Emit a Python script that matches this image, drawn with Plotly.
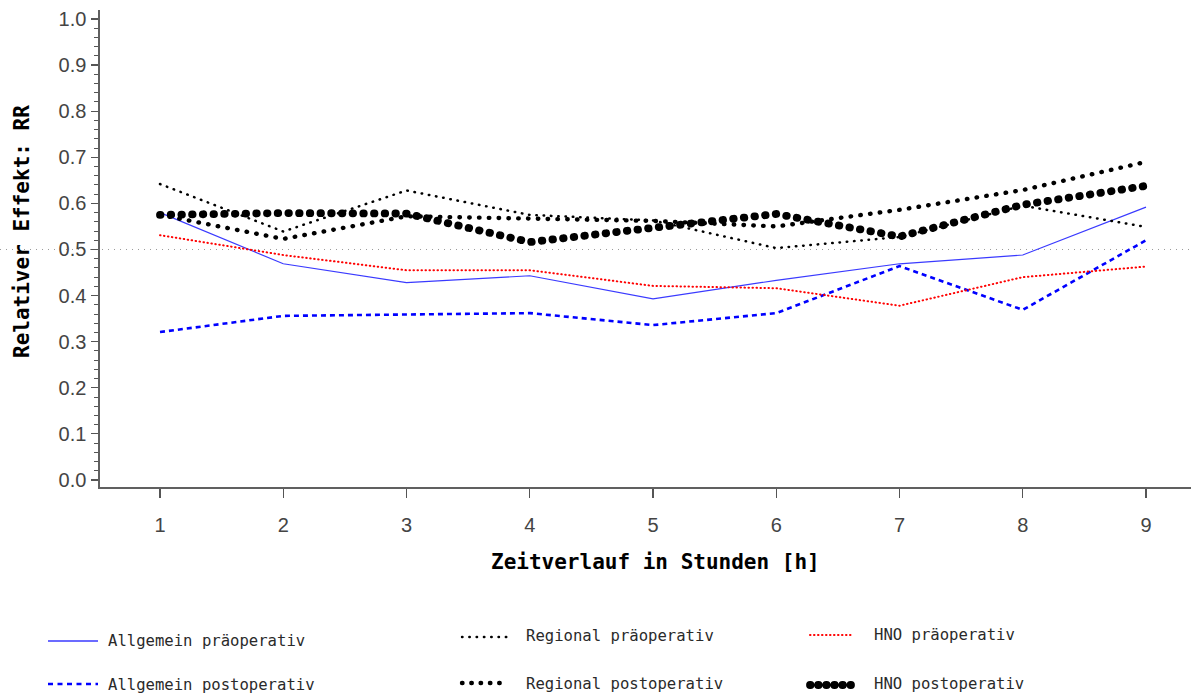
import plotly.graph_objects as go

# Relative effect (RR) per hour, six groups
hours = [1, 2, 3, 4, 5, 6, 7, 8, 9]
allgemein_prae = [0.580, 0.469, 0.428, 0.443, 0.393, 0.433, 0.469, 0.488, 0.592]
allgemein_post = [0.321, 0.356, 0.359, 0.362, 0.336, 0.362, 0.464, 0.369, 0.520]
regional_prae = [0.642, 0.539, 0.628, 0.575, 0.563, 0.503, 0.527, 0.595, 0.549]
regional_post = [0.575, 0.523, 0.572, 0.568, 0.562, 0.550, 0.586, 0.629, 0.690]
hno_prae = [0.531, 0.488, 0.455, 0.455, 0.421, 0.416, 0.378, 0.440, 0.463]
hno_post = [0.575, 0.579, 0.578, 0.516, 0.547, 0.577, 0.528, 0.597, 0.638]

y_ticks = [0.0, 0.1, 0.2, 0.3, 0.4, 0.5, 0.6, 0.7, 0.8, 0.9, 1.0]
reference_rr = 0.5

names = ["Allgemein präoperativ", "Allgemein postoperativ",
         "Regional präoperativ", "Regional postoperativ",
         "HNO präoperativ", "HNO postoperativ"]
series = [allgemein_prae, allgemein_post, regional_prae,
          regional_post, hno_prae, hno_post]

# line styles (color, width, dash pattern); "0.5px" dashes get round caps -> dots
styles = [
    dict(color="#3a3aff", width=1.2, dash="solid"),
    dict(color="#0000ff", width=2.6, dash="5px,4px"),
    dict(color="#000000", width=2.5, dash="0.5px,6.8px"),
    dict(color="#000000", width=4.4, dash="0.5px,9.3px"),
    dict(color="#ff0000", width=2.0, dash="0.5px,3.5px"),
    dict(color="#000000", width=7.8, dash="0.5px,10.2px"),
]
legend_styles = [
    dict(color="#3a3aff", width=1.6, dash="solid"),
    dict(color="#0000ff", width=2.4, dash="5px,4.5px"),
    dict(color="#000000", width=2.4, dash="0.5px,6.8px"),
    dict(color="#000000", width=4.4, dash="0.5px,8.8px"),
    dict(color="#ff0000", width=2.0, dash="0.5px,3.5px"),
    dict(color="#000000", width=7.8, dash="0.5px,7.6px"),
]

W, H = 1191, 694
ML, MR, MT, MB = 100, 0, 10, 207
PW, PH = W - ML - MR, H - MT - MB


def px_x(px):
    return (px - ML) / PW


def px_y(py):
    return (H - MB - py) / PH


fig = go.Figure()
for name, vals, st in zip(names, series, styles):
    fig.add_trace(go.Scatter(x=hours, y=vals, mode="lines", name=name,
                             line=st, showlegend=False, hoverinfo="skip"))

shapes = [
    # dotted reference line at RR = 0.5 across the full width
    dict(type="line", xref="paper", yref="y", x0=px_x(0), x1=px_x(W),
         y0=reference_rr, y1=reference_rr, layer="below",
         line=dict(color="#9a9a9a", width=1, dash="1px,5px")),
]

# legend: three columns, two rows
col_sample = [(48, 98), (462, 508), (810, 853)]
col_text = [106, 524, 872]
row_sample_y = [[641, 684], [637, 683], [635, 685]]
row_text_y = [[641, 685], [636, 684], [635, 684]]
annotations = []
for i, (name, st) in enumerate(zip(names, legend_styles)):
    col, row = i // 2, i % 2
    x0, x1 = col_sample[col]
    sy = row_sample_y[col][row]
    shapes.append(dict(type="line", xref="paper", yref="paper",
                       x0=px_x(x0), x1=px_x(x1), y0=px_y(sy), y1=px_y(sy),
                       line=st))
    annotations.append(dict(text=name, xref="paper", yref="paper",
                            x=px_x(col_text[col]), y=px_y(row_text_y[col][row]),
                            xanchor="left", yanchor="middle", showarrow=False,
                            font=dict(family="DejaVu Sans Mono", size=15.6,
                                      color="#2a2a2a")))

# axis titles
annotations.append(dict(text="<b>Zeitverlauf in Stunden [h]</b>", xref="paper",
                        yref="paper", x=px_x(655), y=px_y(562), showarrow=False,
                        xanchor="center", yanchor="middle",
                        font=dict(family="DejaVu Sans Mono", size=21, color="#000")))
annotations.append(dict(text="<b>Relativer Effekt: RR</b>", xref="paper",
                        yref="paper", x=px_x(22), y=px_y(232), showarrow=False,
                        textangle=-90, xanchor="center", yanchor="middle",
                        font=dict(family="DejaVu Sans Mono", size=21, color="#000")))

axis_font = dict(family="Liberation Sans", size=20, color="#444444")
fig.update_layout(
    width=W, height=H,
    margin=dict(l=ML, r=MR, t=MT, b=MB, pad=0),
    paper_bgcolor="white", plot_bgcolor="white",
    showlegend=False,
    shapes=shapes,
    annotations=annotations,
    xaxis=dict(range=[1 - 60 / 123.25, 1 + (W - 160) / 123.25],
               tickvals=hours, ticktext=[str(h) for h in hours],
               ticks="outside", ticklen=9, tickwidth=1.2, tickcolor="#555",
               showgrid=False, zeroline=False, showline=True,
               linecolor="#606060", linewidth=1.6,
               tickfont=axis_font, ticklabelstandoff=10),
    yaxis=dict(range=[-0.0152, 1.0195],
               tickvals=y_ticks, ticktext=[f"{v:.1f}" for v in y_ticks],
               ticks="outside", ticklen=7, tickwidth=1.2, tickcolor="#555",
               minor=dict(dtick=0.02, tick0=0, ticks="outside", ticklen=4,
                          tickwidth=1, tickcolor="#555", showgrid=False),
               showgrid=False, zeroline=False, showline=True,
               linecolor="#606060", linewidth=1.6,
               tickfont=axis_font, ticklabelstandoff=1),
)

round_caps = """
var gd = document.getElementById('{plot_id}');
function roundDots() {
  gd.querySelectorAll('path').forEach(function (p) {
    var d = p.style.strokeDasharray || '';
    if (d.indexOf('0.5px') === 0) { p.style.strokeLinecap = 'round'; }
  });
}
roundDots();
if (gd.on) { gd.on('plotly_afterplot', roundDots); }
"""

fig.write_html("out.html", config={"staticPlot": True}, post_script=round_caps)
